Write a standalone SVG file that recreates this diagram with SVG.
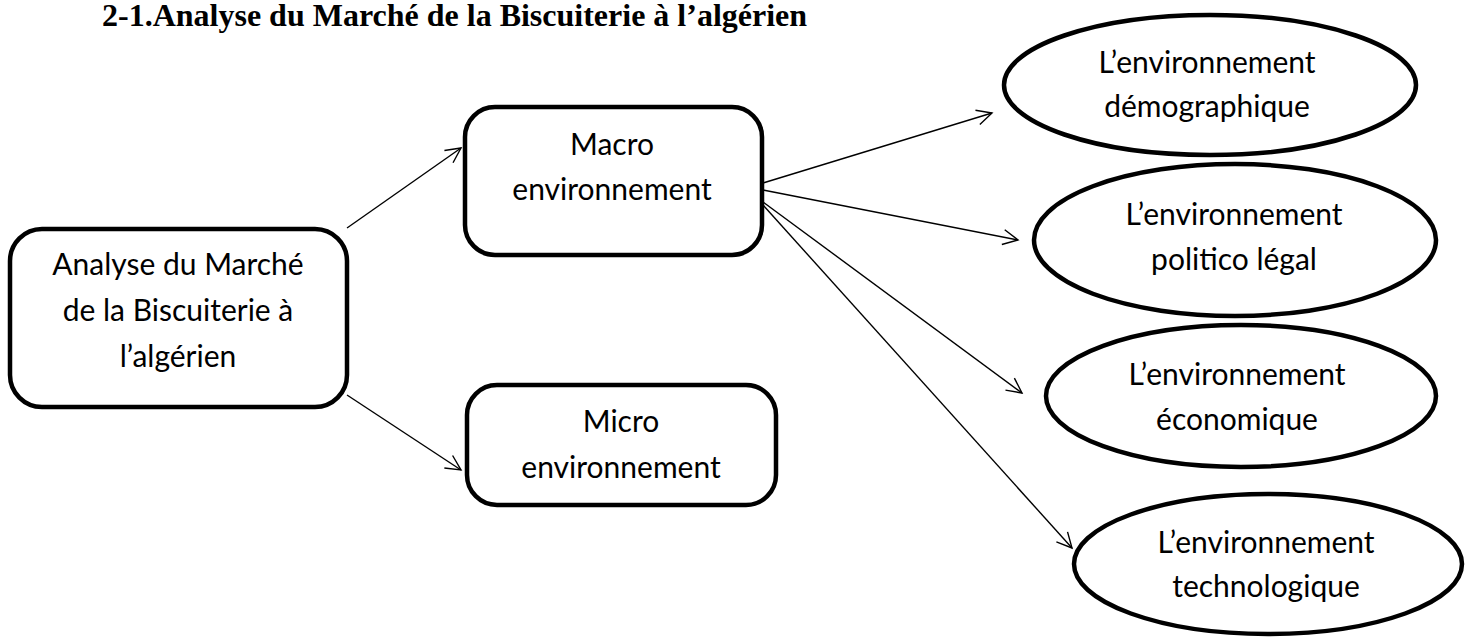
<svg xmlns="http://www.w3.org/2000/svg" width="1470" height="637" viewBox="0 0 1470 637">
<defs>
<style>
.box{fill:#fff;stroke:#000;stroke-width:4.5}
.lbl{font-family:Lato,"Liberation Sans",sans-serif;font-size:30px;fill:#000;text-anchor:middle}
.title{font-family:"Liberation Serif",serif;font-weight:bold;font-size:32px;fill:#000}
.edge{stroke:#000;stroke-width:1.4;fill:none;marker-end:url(#arr)}
</style>
<marker id="arr" markerUnits="userSpaceOnUse" markerWidth="20" markerHeight="20" refX="0" refY="0" orient="auto" overflow="visible">
<path d="M-15,-7.5 L0,0 L-15,7.5" fill="none" stroke="#000" stroke-width="1.4"/>
</marker>
</defs>
<rect width="1470" height="637" fill="#fff"/>
<text class="title" x="102" y="26">2-1.Analyse du Marché de la Biscuiterie à l’algérien</text>
<g id="connectors">
<line class="edge" x1="347" y1="228" x2="461" y2="148"/>
<line class="edge" x1="347" y1="395" x2="461" y2="470"/>
<line class="edge" x1="763" y1="183" x2="992" y2="113"/>
<line class="edge" x1="763" y1="190" x2="1018" y2="240"/>
<line class="edge" x1="763" y1="202" x2="1022" y2="393"/>
<line class="edge" x1="763" y1="205" x2="1072" y2="548"/>
</g>
<g id="analyse">
<rect class="box" x="10" y="229" width="337" height="178" rx="32"/>
<text class="lbl" x="178" y="275">Analyse du Marché</text>
<text class="lbl" x="178" y="321">de la Biscuiterie à</text>
<text class="lbl" x="178" y="367">l’algérien</text>
</g>
<g id="macro">
<rect class="box" x="465" y="107" width="297" height="148" rx="30"/>
<text class="lbl" x="612" y="155">Macro</text>
<text class="lbl" x="612" y="200">environnement</text>
</g>
<g id="micro">
<rect class="box" x="467" y="385" width="309" height="120" rx="30"/>
<text class="lbl" x="621" y="432">Micro</text>
<text class="lbl" x="621" y="478">environnement</text>
</g>
<g id="demo">
<ellipse class="box" cx="1210" cy="85" rx="206" ry="70"/>
<text class="lbl" x="1207" y="73">L’environnement</text>
<text class="lbl" x="1207" y="117">démographique</text>
</g>
<g id="politico">
<ellipse class="box" cx="1235" cy="240" rx="201" ry="76"/>
<text class="lbl" x="1234" y="225">L’environnement</text>
<text class="lbl" x="1234" y="270">politico légal</text>
</g>
<g id="eco">
<ellipse class="box" cx="1241" cy="396" rx="195" ry="71"/>
<text class="lbl" x="1237" y="385">L’environnement</text>
<text class="lbl" x="1237" y="430">économique</text>
</g>
<g id="techno">
<ellipse class="box" cx="1268" cy="564" rx="194" ry="70"/>
<text class="lbl" x="1266" y="553">L’environnement</text>
<text class="lbl" x="1266" y="597">technologique</text>
</g>
</svg>
